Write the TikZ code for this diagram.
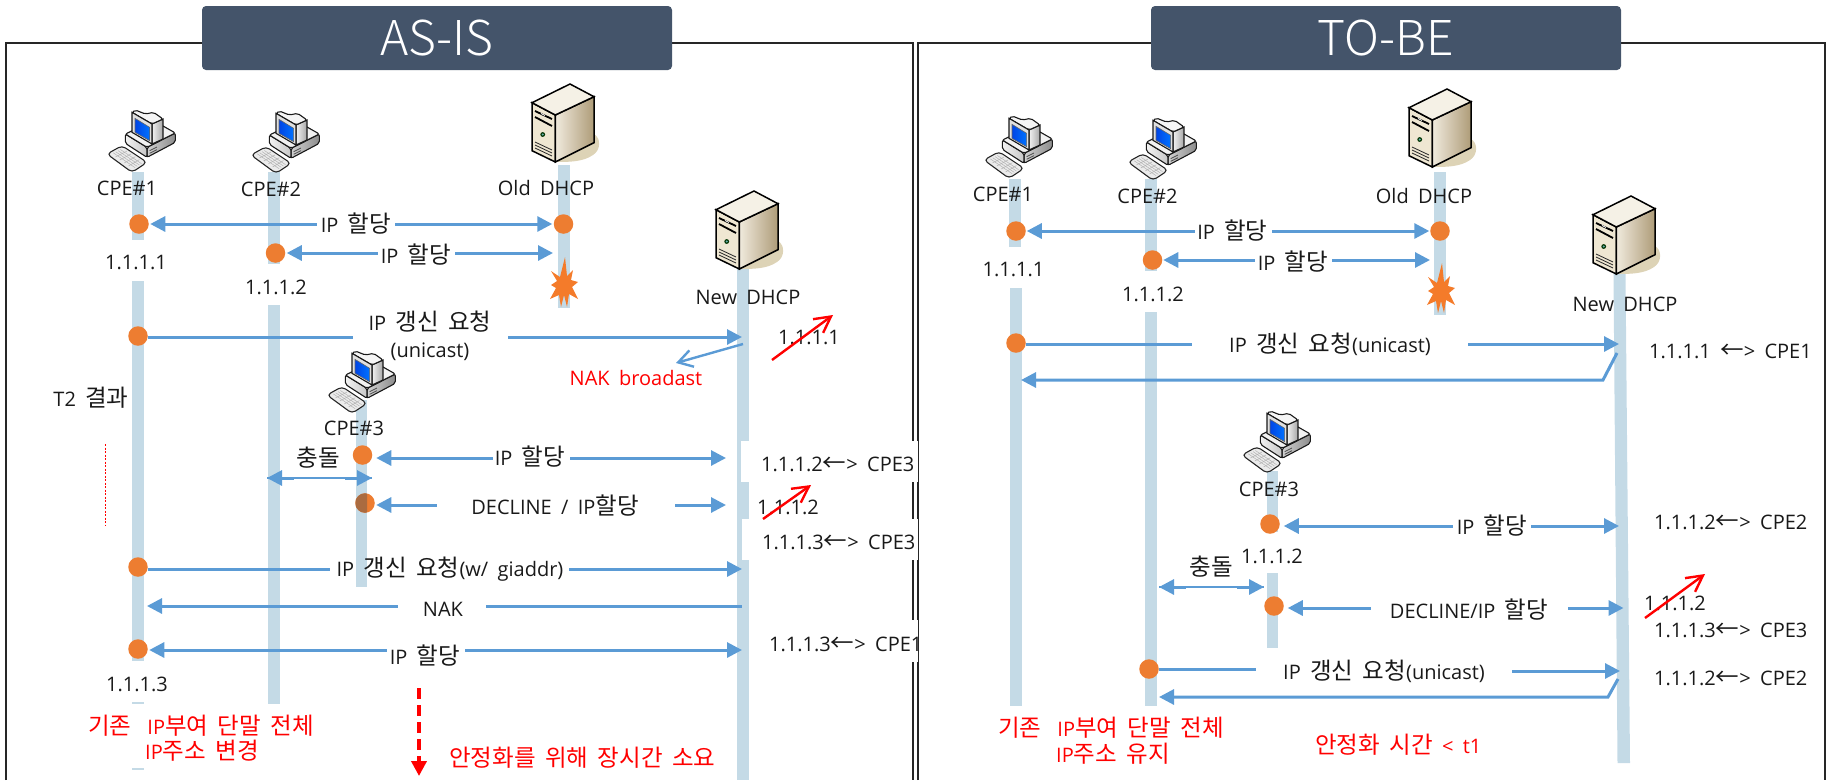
\documentclass[tikz,border=0pt]{standalone}
\usepackage{fontspec}
\setmainfont{Open Sans}[WordSpace=1.8]
\newfontfamily\krf{Noto Sans CJK KR}[WordSpace=1.8]
\newfontfamily\titlef{Noto Sans CJK KR Light}
\newcommand{\kr}[1]{{\krf\fontsize{23.5}{24}\selectfont #1}}
\usetikzlibrary{arrows.meta,shapes.geometric,calc}
\definecolor{lanec}{HTML}{C4DAE6}
\definecolor{flowc}{HTML}{5B9BD5}
\definecolor{dotc}{HTML}{ED7D31}
\definecolor{bannerc}{HTML}{44546A}
\definecolor{starc}{HTML}{F47B2A}
\definecolor{srvshadow}{HTML}{DDD3B6}
\definecolor{srvfront}{HTML}{EFE7D2}
\definecolor{srvlight}{HTML}{F0EADD}
\definecolor{srvdark}{HTML}{AE9C78}
\definecolor{srvtop}{HTML}{F5F1E6}
\tikzset{
  x=1pt,y=-1pt,
  >={Triangle[length=15pt,width=15pt]},
  framebox/.style={draw=black!85,line width=1.1},
  banner/.style={fill=bannerc,rounded corners=4pt,text=white,minimum height=64pt,font=\titlef\fontsize{48}{48}\selectfont,inner sep=0pt},
  lane/.style={fill=lanec},
  patch/.style={fill=white},
  flow/.style={draw=flowc,line width=3},
  thinflow/.style={draw=flowc,line width=1.2},
  dot/.style={ellipse,fill=dotc,minimum width=19.5pt,minimum height=19.5pt,inner sep=0pt,outer sep=0pt},
  lab/.style={inner sep=0pt,text height=14pt,text depth=0pt,font=\fontsize{20}{22}\selectfont,text=black!90},
  redlab/.style={lab,text=red},
  strike/.style={draw=red,line width=2.4,-{Straight Barb[length=16pt,width=17pt,line width=2.4pt]}},
  naktip/.style={draw=flowc,line width=2.4,-{Straight Barb[length=14pt,width=17pt,line width=2.4pt]}},
  pcicon/.pic={
    \begin{scope}[scale=1/3]
      \filldraw[fill=black!8,draw=black!85,line width=1.1,rounded corners=4pt] (0,135)--(45,110)--(120,160)--(75,190)--cycle;
      \foreach \t in {0.2,0.4,0.6,0.8}{\draw[black!30,line width=.5] ($(12,135)!\t!(47,118)$) -- ($(78,180)!\t!(110,160)$);}
      \foreach \t in {0.2,0.4,0.6,0.8}{\draw[black!30,line width=.5] ($(12,135)!\t!(78,180)$) -- ($(47,118)!\t!(110,160)$);}
      \path[draw=black!90,line width=1.1,left color=black!18,right color=black!45,rounded corners=2pt] (120,115)--(205,72)--(205,100)--(120,145)--cycle;
      \path[draw=black!90,line width=1.1,left color=black!5,right color=black!22,rounded corners=2pt] (55,75)--(120,115)--(120,145)--(55,103)--cycle;
      \path[draw=black!90,line width=1.1,fill=black!5,rounded corners=2pt] (55,75)--(140,35)--(205,72)--(120,115)--cycle;
      \draw[black!70,line width=.8] (128,125)--(150,114) (128,133)--(150,122);
      \path[draw=black!90,line width=1.1,left color=black!5,right color=black!35] (135,45)--(168,30)--(168,90)--(135,105)--cycle;
      \path[draw=black!90,line width=1.1,fill=black!4,rounded corners=2pt] (75,10)--(85,3)--(115,15)--(140,10)--(168,30)--(135,45)--cycle;
      \path[draw=black!90,line width=1.1,fill=black!12] (75,10)--(135,45)--(135,105)--(75,70)--cycle;
      \path[left color=blue!70!cyan!90!black,right color=cyan!45!blue,draw=black!60,line width=.6] (84,28)--(128,55)--(128,95)--(84,70)--cycle;
    \end{scope}
  },
  servericon/.pic={
    \path[fill=srvshadow] (63,50) .. controls (70,54) and (70,66) .. (62,71) .. controls (52,78) and (38,78) .. (24,78) -- cycle;
    \path[draw=black,line width=1.5,fill=srvfront] (1,18.7)--(24.3,31)--(24.3,78)--(1,66.7)--cycle;
    \path[draw=black,line width=1.5,left color=srvlight,right color=srvdark] (24.3,31)--(63,12.7)--(63,58.7)--(24.3,78)--cycle;
    \path[draw=black,line width=1.5,fill=srvtop] (1,18.7)--(39,0)--(63,12.7)--(24.3,31)--cycle;
    \draw[black,line width=1.8] (4,27)--(21,35) (4,33)--(21,42);
    \draw[white,line width=.8] (10,29.5)--(14,31.5);
    \fill[black!80!green] (11.7,50.5) circle (2.4);
    \fill[teal!60!white] (11.7,50.5) circle (1.2);
    \draw[black!85,line width=.8] (4,58)--(21,66) (4,61)--(21,69) (4,64)--(21,72);
  },
  burst/.pic={
    \fill[starc] (1,-30)--(3,-11)--(9,-17)--(7,-7)--(14,-5)--(8,0)--(14,12)--(5,7)--(3,20)--(0,8)--(-3,20)--(-5,8)--(-14,12)--(-8,1)--(-13,-2)--(-7,-6)--(-13,-16)--(-4,-10)--cycle;
  },
}
\begin{document}
\begin{tikzpicture}
\useasboundingbox (0,0) rectangle (1829,780);
% frames
\draw[framebox] (6,780) -- (6,43) -- (913,43) -- (913,780);
\draw[framebox] (918,780) -- (918,43) -- (1825,43) -- (1825,780);
\node[banner,minimum width=470pt] (asis) at (437,38) {AS-IS};
\node[banner,minimum width=470pt] (tobe) at (1386,38) {TO-BE};

% ---------- AS-IS lanes
\fill[lane] (132,172) rectangle (144,240);
\fill[lane] (132,281) rectangle (144,661);
\fill[lane] (132,702) rectangle (144,704);
\fill[lane] (132,768) rectangle (144,770);
\fill[lane] (268,172) rectangle (280,264);
\fill[lane] (268,305) rectangle (280,704);
\fill[lane] (557.5,165) rectangle (569.5,308);
\fill[lane] (355.5,400) rectangle (367,587);
\fill[lane] (736.5,268) rectangle (748.5,780);
% white boxes behind the address table
\fill[patch] (741,441) rectangle (918,482);
\fill[patch] (742,519) rectangle (918,560);
\fill[patch] (760,620) rectangle (918,662);

% ---------- AS-IS icons
\pic at (107,109) {pcicon};
\pic at (251,110) {pcicon};
\pic at (327,350) {pcicon};
\pic at (531,84) {servericon};
\pic at (715,191) {servericon};
\pic at (564,287) {burst};

% ---------- AS-IS dots
\node[dot] (a1) at (139,224) {};
\node[dot] (ao) at (563.5,224) {};
\node[dot] (a2) at (275.5,253) {};
\node[dot] (a3) at (138,336) {};
\node[dot] (a4) at (362.5,455) {};
\node[dot] (a5) at (365,503) {};
\begin{scope}
  \clip (355.5,490) rectangle (367,516);
  \fill[color=dotc!70!black!85!lanec] (365,503) circle (9.75);
\end{scope}
\node[dot] (a6) at (138,567) {};
\node[dot] (a7) at (138,649) {};

% ---------- AS-IS connectors
\coordinate (g1l) at (317,224); \coordinate (g1r) at (395,224);
\draw[flow,<-,shorten <=1.5pt] (a1) -- (g1l);
\draw[flow,->,shorten >=1.5pt] (g1r) -- (ao);
\coordinate (g2l) at (378,253); \coordinate (g2r) at (455,253); \coordinate (t2) at (553,253);
\draw[flow,<-,shorten <=1.5pt] (a2) -- (g2l);
\draw[flow,->] (g2r) -- (t2);
\coordinate (g3l) at (353,337); \coordinate (g3r) at (508,337); \coordinate (t3) at (742,337);
\draw[flow] (a3.east |- g3l) -- (g3l);
\draw[flow,->] (g3r) -- (t3);
\coordinate (nk1) at (743,344); \coordinate (nk2) at (676,363);
\draw[naktip] (nk1) -- (nk2);
\coordinate (g4l) at (493,458); \coordinate (g4r) at (570,458); \coordinate (t4) at (726,458);
\draw[flow,<-,shorten <=4pt] (a4.east |- g4l) -- (g4l);
\draw[flow,->] (g4r) -- (t4);
\coordinate (c1) at (267,478); \coordinate (c2) at (372,478);
\draw[thinflow] (c1) -- (c2);
\draw[flow,<-] (c1) -- ++(27,0);
\draw[flow,<-] (c2) -- ++(-27,0);
\coordinate (g5l) at (437,505); \coordinate (g5r) at (675,505); \coordinate (t5) at (726,505);
\draw[flow,<-,shorten <=1.5pt] (a5.east |- g5l) -- (g5l);
\draw[flow,->] (g5r) -- (t5);
\coordinate (g6l) at (330,569); \coordinate (g6r) at (569,569); \coordinate (t6) at (742,569);
\draw[flow] (a6.east |- g6l) -- (g6l);
\draw[flow,->] (g6r) -- (t6);
\coordinate (t7) at (147,606); \coordinate (g7l) at (398,606); \coordinate (g7r) at (486,606); \coordinate (s7) at (742,606);
\draw[flow,<-] (t7) -- (g7l);
\draw[flow] (g7r) -- (s7);
\coordinate (g8l) at (387,650); \coordinate (g8r) at (465,650); \coordinate (t8) at (742,650);
\draw[flow,<-,shorten <=1.5pt] (a7.east |- g8l) -- (g8l);
\draw[flow,->] (g8r) -- (t8);
% red marks
\coordinate (r1a) at (772,360); \coordinate (r1b) at (833,315);
\coordinate (r2a) at (763,519); \coordinate (r2b) at (811,485);
\coordinate (rd1) at (105,444); \coordinate (rd2) at (105,525);
\coordinate (rv1) at (419,688); \coordinate (rv2) at (419,776);
\draw[red,line width=.9,dash pattern=on 2pt off 1.5pt] (rd1) -- (rd2);
\draw[red,line width=3.6,dash pattern=on 11pt off 6pt,-{Triangle[length=15pt,width=15pt]}] (rv1) -- (rv2);

% ---------- AS-IS labels
\node[lab] (l1) at (127,188) {CPE\#1};
\node[lab] (l2) at (271,189) {CPE\#2};
\node[lab] (l3) at (546,188) {Old DHCP};
\node[lab] (l4) at (748,297) {New DHCP};
\node[lab] (l5) at (354,428) {CPE\#3};
\node[lab] at (356,225) {IP \kr{할당}};
\node[lab] at (416,256) {IP \kr{할당}};
\node[lab] at (136,262) {1.1.1.1};
\node[lab] at (276,287) {1.1.1.2};
\node[lab] at (430,323) {IP \kr{갱신 요청}};
\node[lab] at (430,350) {(unicast)};
\node[lab] at (91,399) {T2 \kr{결과}};
\node[lab] at (809,337) {1.1.1.1};
\node[redlab] at (636,378) {NAK broadast};
\node[lab] at (530,458) {IP \kr{할당}};
\node[lab] at (318,459) {\kr{충돌}};
\node[lab] at (555,507) {DECLINE / IP\kr{할당}};
\node[lab,anchor=west] at (761,464) {1.1.1.2\kr{←}> CPE3};
\node[lab] at (788,507) {1.1.1.2};
\node[lab,anchor=west] at (762,542) {1.1.1.3\kr{←}> CPE3};
\node[lab] at (450,569) {IP \kr{갱신 요청}(w/ giaddr)};
\node[lab] at (443,609) {NAK};
\node[lab] at (425,657) {IP \kr{할당}};
\node[lab,anchor=west] at (769,644) {1.1.1.3\kr{←}> CPE1};
\node[lab] at (137,684) {1.1.1.3};
\node[redlab,anchor=west] at (88,727) {\kr{기존}\hspace{16pt}IP\kr{부여 단말 전체}};
\node[redlab,anchor=west] at (145,752) {IP\kr{주소 변경}};
\node[redlab,anchor=west] at (449,759) {\kr{안정화를 위해 장시간 소요}};
\draw[strike] (r1a) -- (r1b);
\draw[strike] (r2a) -- (r2b);

% ---------- TO-BE lanes
\fill[lane] (1009,179) rectangle (1021,247);
\fill[lane] (1010,288) rectangle (1022,706);
\fill[lane] (1145,179) rectangle (1157,271);
\fill[lane] (1145,312) rectangle (1157,706);
\fill[lane] (1434,172) rectangle (1446,315);
\fill[lane] (1267,471) rectangle (1278,532);
\fill[lane] (1267,573) rectangle (1278,648);
\fill[lane] (1613.5,274) -- (1625.5,274) -- (1630,763) -- (1617.5,763) -- cycle;

% ---------- TO-BE icons
\pic at (984,115) {pcicon};
\pic at (1128,117) {pcicon};
\pic at (1242,410) {pcicon};
\pic at (1408,89) {servericon};
\pic at (1592,196) {servericon};
\pic at (1441,293) {burst};

% ---------- TO-BE dots
\node[dot] (b1) at (1016,231) {};
\node[dot] (bo) at (1440,231) {};
\node[dot] (b2) at (1152.5,260) {};
\node[dot] (b3) at (1016,343) {};
\node[dot] (b4) at (1270,524) {};
\node[dot] (b5) at (1274,606) {};
\node[dot] (b6) at (1149,669) {};

% ---------- TO-BE connectors
\coordinate (h1l) at (1195,231); \coordinate (h1r) at (1272,231);
\draw[flow,<-,shorten <=1pt] (b1) -- (h1l);
\draw[flow,->,shorten >=1pt] (h1r) -- (bo);
\coordinate (h2l) at (1255,260); \coordinate (h2r) at (1332,260); \coordinate (u2) at (1430,260);
\draw[flow,<-,shorten <=1pt] (b2) -- (h2l);
\draw[flow,->] (h2r) -- (u2);
\coordinate (h3l) at (1192,344); \coordinate (h3r) at (1468,344); \coordinate (u3) at (1619,344);
\draw[flow] (b3.east |- h3l) -- (h3l);
\draw[flow,->] (h3r) -- (u3);
\coordinate (v1) at (1617,353); \coordinate (v2) at (1603,380); \coordinate (v3) at (1021,380);
\draw[flow,->] (v1) -- (v2) -- (v3);
\coordinate (h4l) at (1453,526); \coordinate (h4r) at (1531,526); \coordinate (u4) at (1619,526);
\draw[flow,<-,shorten <=4pt] (b4.east |- h4l) -- (h4l);
\draw[flow,->] (h4r) -- (u4);
\coordinate (d1) at (1159,587); \coordinate (d2) at (1264,587);
\draw[thinflow] (d1) -- (d2);
\draw[flow,<-] (d1) -- ++(27,0);
\draw[flow,<-] (d2) -- ++(-27,0);
\coordinate (h5l) at (1371,608); \coordinate (h5r) at (1568,608); \coordinate (u5) at (1623.5,608);
\draw[flow,<-,shorten <=4pt] (b5.east |- h5l) -- (h5l);
\draw[flow,->] (h5r) -- (u5);
\coordinate (h6l) at (1256,669); \coordinate (h6r) at (1512,671); \coordinate (u6) at (1620,671);
\draw[flow] (b6.east |- h6l) -- (h6l);
\draw[flow,->] (h6r) -- (u6);
\coordinate (w1) at (1618,679); \coordinate (w2) at (1608,697); \coordinate (w3) at (1159,697);
\draw[flow,->] (w1) -- (w2) -- (w3);
\coordinate (r3a) at (1645,618); \coordinate (r3b) at (1705,574);

% ---------- TO-BE labels
\node[lab] at (1003,194) {CPE\#1};
\node[lab] at (1147.5,196) {CPE\#2};
\node[lab] at (1424,196) {Old DHCP};
\node[lab] at (1625,304) {New DHCP};
\node[lab] at (1269,489) {CPE\#3};
\node[lab] at (1232.5,232) {IP \kr{할당}};
\node[lab] at (1293,263) {IP \kr{할당}};
\node[lab] at (1013.5,269) {1.1.1.1};
\node[lab] at (1153,294) {1.1.1.2};
\node[lab] at (1330,345) {IP \kr{갱신 요청}(unicast)};
\node[lab,anchor=west] at (1649,351) {1.1.1.1 \kr{←}> CPE1};
\node[lab] at (1492,527) {IP \kr{할당}};
\node[lab,anchor=west] at (1654,522) {1.1.1.2\kr{←}> CPE2};
\node[lab] at (1272,556) {1.1.1.2};
\node[lab] at (1211,568) {\kr{충돌}};
\node[lab] at (1469,611) {DECLINE/IP \kr{할당}};
\node[lab] at (1675,603) {1.1.1.2};
\node[lab,anchor=west] at (1654,630) {1.1.1.3\kr{←}> CPE3};
\node[lab] at (1384,672) {IP \kr{갱신 요청}(unicast)};
\node[lab,anchor=west] at (1654,678) {1.1.1.2\kr{←}> CPE2};
\node[redlab,anchor=west] at (998,729) {\kr{기존}\hspace{16pt}IP\kr{부여 단말 전체}};
\node[redlab,anchor=west] at (1056,755) {IP\kr{주소 유지}};
\node[redlab,anchor=west] at (1315,746) {\kr{안정화 시간} < t1};
\draw[strike] (r3a) -- (r3b);
\end{tikzpicture}
\end{document}
